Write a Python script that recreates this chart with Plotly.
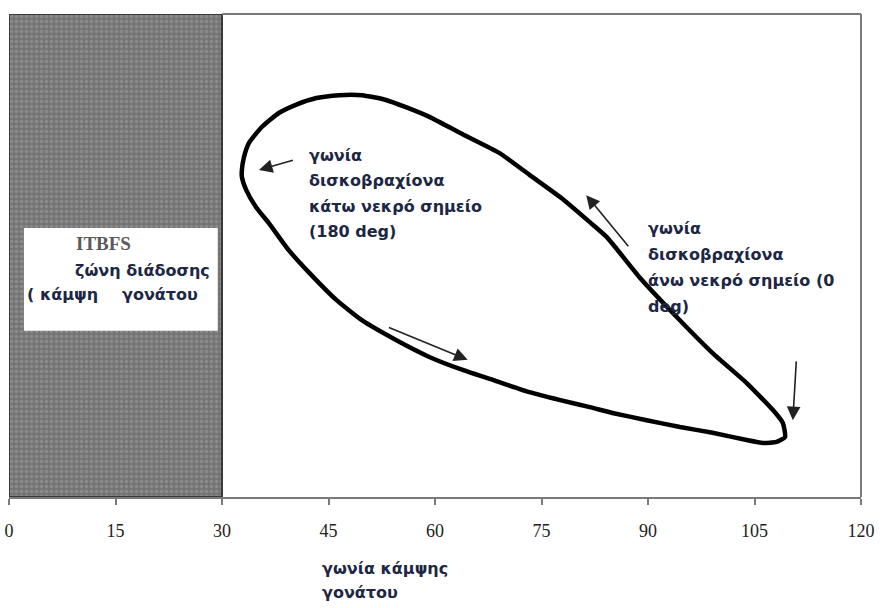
import plotly.graph_objects as go

# ---------------- data ----------------
loop_x = [106.2, 108.1, 109.3, 109.0, 107.6, 103.9, 99.1, 93.5, 88.8, 84.2, 81.8, 77.8,
          73.3, 69.1, 63.9, 59.2, 55.9, 53.1, 49.7, 46.5, 43.3, 40.4, 38.0, 35.6, 33.8,
          33.1, 32.8, 32.8, 33.4, 34.8, 36.6, 39.4, 42.3, 46.1, 49.7, 54.5, 59.2, 63.9,
          68.6, 73.3, 77.5, 81.8, 85.0, 89.8, 94.5, 99.1, 103.9, 106.2]
loop_y = [11.2, 11.4, 12.4, 15.3, 18.0, 23.6, 29.8, 38.1, 45.5, 53.8, 56.9, 61.9,
          66.7, 71.2, 75.1, 78.7, 80.7, 82.2, 83.2, 83.2, 82.6, 81.2, 79.5, 76.6, 73.3,
          70.4, 67.7, 66.3, 63.6, 60.0, 56.7, 51.1, 46.4, 40.8, 36.6, 32.5, 29.0, 26.3,
          24.0, 21.7, 20.1, 18.6, 17.4, 15.9, 14.5, 13.3, 11.8, 11.2]

x_ticks = [0, 15, 30, 45, 60, 75, 90, 105, 120]
x_range = [0, 120]
y_range = [0, 100]
zone_x = [0, 30]               # ITBFS zone (knee flexion)

# arrows: (tail_x, tail_y, head_x, head_y)
arrow_tail_x = [40.2, 53.3, 87.4, 110.9]
arrow_tail_y = [69.8, 35.2, 51.6, 28.4]
arrow_head_x = [35.2, 64.6, 81.3, 110.4]
arrow_head_y = [67.7, 28.4, 62.5, 15.9]

label_bdc = ["γωνία", "δισκοβραχίονα", "κάτω νεκρό σημείο", "(180 deg)"]
label_tdc = ["γωνία", "δισκοβραχίονα", "άνω νεκρό σημείο (0", "deg)"]
x_title = ["γωνία κάμψης", "γονάτου"]
zone_box_x = [2.1, 29.4]
zone_box_y = [34.4, 55.7]

TXT = "#1d2744"
FAM = "DejaVu Sans"
fig = go.Figure()

# shaded zone
fig.add_trace(go.Scatter(
    x=[zone_x[0], zone_x[1], zone_x[1], zone_x[0], zone_x[0]],
    y=[y_range[0], y_range[0], y_range[1], y_range[1], y_range[0]],
    mode="lines", fill="toself",
    fillcolor="#757575",
    fillpattern=dict(shape=".", bgcolor="#747474", fgcolor="#a2a2a2", size=5, solidity=0.4),
    line=dict(color="#3a3a3a", width=2), hoverinfo="skip", showlegend=False))

# loop
fig.add_trace(go.Scatter(x=loop_x, y=loop_y, mode="lines",
                         line=dict(color="black", width=4.5, shape="spline", smoothing=0.5),
                         showlegend=False, hoverinfo="skip"))

shapes = [
    dict(type="rect", xref="x", yref="y", x0=zone_box_x[0], x1=zone_box_x[1],
         y0=zone_box_y[0], y1=zone_box_y[1], fillcolor="white", line=dict(width=0), layer="above"),
    dict(type="line", xref="x", yref="paper", x0=zone_x[1], x1=x_range[1], y0=1, y1=1,
         line=dict(color="#7a7a7a", width=2)),
    dict(type="line", xref="paper", yref="paper", x0=1, x1=1, y0=0, y1=1,
         line=dict(color="#7a7a7a", width=2)),
]

ann = []
for tx, ty, hx, hy in zip(arrow_tail_x, arrow_tail_y, arrow_head_x, arrow_head_y):
    ann.append(dict(x=hx, y=hy, ax=tx, ay=ty, xref="x", yref="y", axref="x", ayref="y",
                    showarrow=True, arrowhead=2, arrowsize=1.7, arrowwidth=1.6,
                    arrowcolor="#222222", text=""))

def add_lines(lines, x, y, spacing, size=16, xref="x", yref="y", color=TXT):
    for i, t in enumerate(lines):
        ann.append(dict(x=x, y=y, xref=xref, yref=yref, text=t, showarrow=False,
                        xanchor="left", yanchor="middle", yshift=-i * spacing,
                        font=dict(size=size, family=FAM, color=color, weight=600)))

add_lines(label_bdc, 42.0, 70.8, 25.5)
add_lines(label_tdc, 89.7, 55.5, 26)
add_lines(x_title, 43.8, -0.147, 24, yref="paper")

# box texts
ann.append(dict(x=13.3, y=52.4, xref="x", yref="y", text="ITBFS", showarrow=False,
                font=dict(size=19, family="Liberation Serif", color="#5a5a5a", weight="bold")))
ann.append(dict(x=9.0, y=46.8, xref="x", yref="y", text="ζώνη διάδοσης", showarrow=False,
                xanchor="left", width=140, align="left",
                font=dict(size=16, family=FAM, color=TXT, weight=600)))
ann.append(dict(x=2.2, y=42.0, xref="x", yref="y", text="( κάμψη", showarrow=False,
                xanchor="left", font=dict(size=16, family=FAM, color=TXT, weight=600)))
ann.append(dict(x=15.6, y=42.0, xref="x", yref="y", text="γονάτου", showarrow=False,
                xanchor="left", font=dict(size=16, family=FAM, color=TXT, weight=600)))

fig.update_layout(
    width=887, height=608,
    margin=dict(l=9, r=26, t=14, b=111),
    paper_bgcolor="white", plot_bgcolor="white",
    shapes=shapes, annotations=ann,
    xaxis=dict(range=x_range, tickvals=x_ticks, showgrid=False, zeroline=False,
               showline=True, linecolor="#7a7a7a", linewidth=2,
               ticks="outside", ticklen=6, tickwidth=2, tickcolor="#7a7a7a",
               ticklabelstandoff=10, automargin=False,
               tickfont=dict(family="Liberation Serif", size=18, color="#222")),
    yaxis=dict(range=y_range, showgrid=False, zeroline=False, showticklabels=False,
               showline=False, ticks="", automargin=False),
)

fig.write_html("out.html", config={"displayModeBar": False},
               post_script="document.body.style.margin='0';document.body.style.overflow='hidden';")
